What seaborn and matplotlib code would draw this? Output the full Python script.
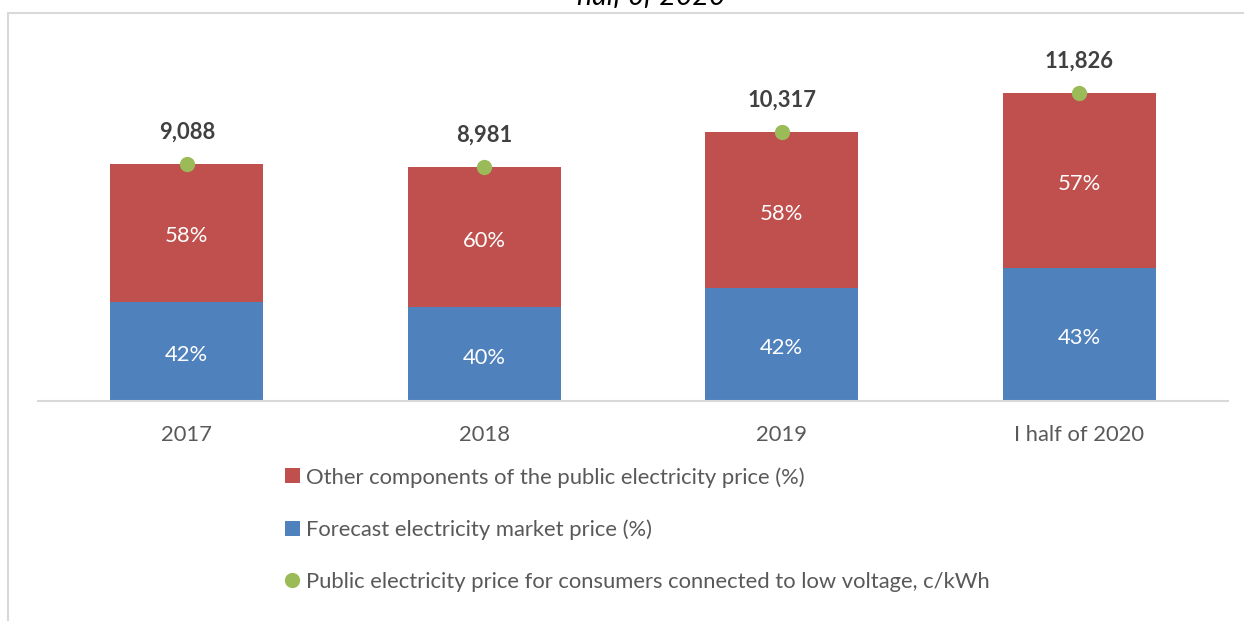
import matplotlib
matplotlib.use("Agg")
import matplotlib.pyplot as plt
from matplotlib.lines import Line2D
from matplotlib.patches import Patch
import seaborn as sns
import pandas as pd

# Data
periods = ["2017", "2018", "2019", "I half of 2020"]
price = [9.088, 8.981, 10.317, 11.826]          # c/kWh
market_share = [42, 40, 42, 43]                 # % forecast market price
other_share = [58, 60, 58, 57]                  # % other components
price_labels = ["9,088", "8,981", "10,317", "11,826"]

RED = "#C0504D"
BLUE = "#4F81BD"
GREEN = "#9BBB59"
GRAY_TXT = "#595959"
DARK_TXT = "#404040"

sns.set_theme(style="white")
plt.rcParams["font.family"] = ["Lato", "DejaVu Sans"]

df = pd.DataFrame({
    "period": periods,
    "price": price,
    "market": [p * s / 100 for p, s in zip(price, market_share)],
})

W, H = 1244, 621
fig = plt.figure(figsize=(W / 100, H / 100), dpi=100)
ax = fig.add_axes([38 / W, 1 - 401 / H, (1228 - 38) / W, (401 - 13) / H])

bw = 0.514
sns.barplot(data=df, x="period", y="price", color=RED, saturation=1,
            width=bw, ax=ax, linewidth=0, order=periods)
sns.barplot(data=df, x="period", y="market", color=BLUE, saturation=1,
            width=bw, ax=ax, linewidth=0, order=periods)
sns.stripplot(data=df, x="period", y="price", color=GREEN, jitter=False,
              size=11, linewidth=0, ax=ax, order=periods, zorder=5)

ax.set_xlim(-0.5, 3.5)
ax.set_ylim(0, (401 - 13) / 26.06)

FS = 15.8
for i, (p, m, o, lab) in enumerate(zip(price, market_share, other_share, price_labels)):
    mv = p * m / 100
    ax.annotate(f"{m}%", (i, mv / 2), xytext=(0, -2.5), textcoords="offset points",
                ha="center", va="center", color="white", fontsize=FS)
    ax.annotate(f"{o}%", (i, mv + (p - mv) / 2), xytext=(0, -2.5), textcoords="offset points",
                ha="center", va="center", color="white", fontsize=FS)
    ax.annotate(lab, (i, p), xytext=(0, 23), textcoords="offset points",
                ha="center", va="center", color=DARK_TXT, fontsize=FS, fontweight="bold")

ax.set_xlabel("")
ax.set_ylabel("")
ax.set_yticks([])
for s in ["left", "right", "top"]:
    ax.spines[s].set_visible(False)
ax.spines["bottom"].set_color("#D9D9D9")
ax.spines["bottom"].set_linewidth(1.5)
ax.tick_params(axis="x", length=0, pad=17, labelsize=FS, labelcolor=GRAY_TXT)

handles = [
    Patch(facecolor=RED, edgecolor="none"),
    Patch(facecolor=BLUE, edgecolor="none"),
    Line2D([], [], marker="o", linestyle="none", markerfacecolor=GREEN,
           markeredgecolor="none", markersize=11),
]
labels = [
    "Other components of the public electricity price (%)",
    "Forecast electricity market price (%)",
    "Public electricity price for consumers connected to low voltage, c/kWh",
]
fig.legend(handles, labels, loc="upper left", bbox_to_anchor=(274 / W, 1 - 456 / H),
           frameon=False, fontsize=FS, labelcolor=GRAY_TXT, handlelength=0.68,
           handleheight=0.68, handletextpad=0.3, labelspacing=1.45, borderpad=0)

# Outer chart frame
fig.add_artist(Line2D([8 / W, 8 / W], [0, 1 - 13 / H], color="#D9D9D9", lw=1.5))
fig.add_artist(Line2D([8 / W, 1], [1 - 13 / H, 1 - 13 / H], color="#D9D9D9", lw=1.5))

# Title (second line visible at the top edge)
fig.text(651 / W, 1 - 5 / H, "half of 2020", ha="center", va="baseline",
         fontsize=20.5, style="italic", color="black")

fig.savefig("out.png", dpi=100)
